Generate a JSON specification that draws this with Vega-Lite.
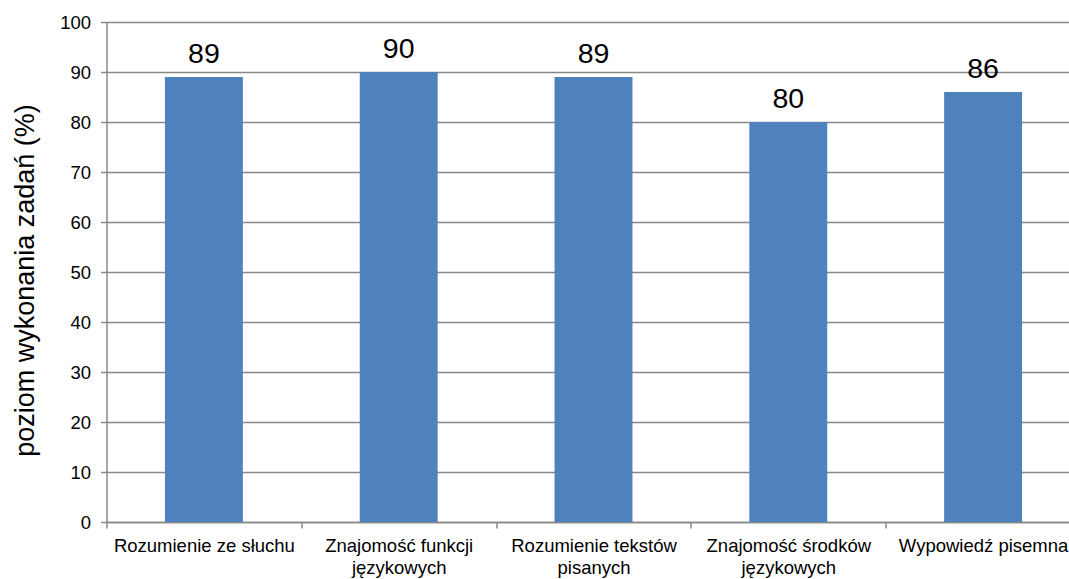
{
  "$schema": "https://vega.github.io/schema/vega-lite/v6.json",
  "autosize": "none",
  "width": 962,
  "height": 500,
  "padding": {"left": 106.5, "top": 22, "right": 0, "bottom": 57},
  "background": "white",
  "config": {
    "view": {"stroke": null},
    "font": "Liberation Sans"
  },
  "data": {
    "values": [
      {"kategoria": "Rozumienie ze słuchu", "wynik": 89},
      {"kategoria": "Znajomość funkcji językowych", "wynik": 90},
      {"kategoria": "Rozumienie tekstów pisanych", "wynik": 89},
      {"kategoria": "Znajomość środków językowych", "wynik": 80},
      {"kategoria": "Wypowiedź pisemna", "wynik": 86}
    ]
  },
  "encoding": {
    "x": {
      "field": "kategoria",
      "type": "nominal",
      "sort": null,
      "scale": {"range": [0, 974], "paddingInner": 0, "paddingOuter": 0},
      "axis": {
        "title": null,
        "labelAngle": 0,
        "labelFont": "Liberation Sans",
        "labelFontSize": 18.5,
        "labelColor": "#000000",
        "labelLineHeight": 22,
        "labelPadding": 8,
        "labelLimit": 400,
        "labelExpr": "length(datum.label) > 22 ? [slice(datum.label, 0, lastindexof(datum.label, ' ')), slice(datum.label, lastindexof(datum.label, ' ') + 1)] : datum.label",
        "tickBand": "extent",
        "tickSize": 6,
        "tickColor": "#888888",
        "tickWidth": 1.5,
        "domainColor": "#888888",
        "domainWidth": 1.5,
        "grid": false
      }
    },
    "y": {
      "field": "wynik",
      "type": "quantitative",
      "scale": {"domain": [0, 100]},
      "axis": {
        "title": "poziom wykonania zadań (%)",
        "titleFont": "Liberation Sans",
        "titleFontSize": 27,
        "titleFontWeight": "normal",
        "titleColor": "#000000",
        "titlePadding": 20,
        "titleY": 258,
        "values": [0, 10, 20, 30, 40, 50, 60, 70, 80, 90, 100],
        "labelFont": "Liberation Sans",
        "labelFontSize": 18.5,
        "labelColor": "#000000",
        "labelPadding": 10,
        "tickSize": 6,
        "tickColor": "#888888",
        "tickWidth": 1.5,
        "domainColor": "#888888",
        "domainWidth": 1.5,
        "grid": true,
        "gridColor": "#888888",
        "gridWidth": 1.5
      }
    }
  },
  "layer": [
    {
      "mark": {"type": "bar", "color": "#4f81bd", "width": {"band": 0.4}}
    },
    {
      "mark": {
        "type": "text",
        "baseline": "alphabetic",
        "dy": -14,
        "fontSize": 28.5,
        "font": "Liberation Sans",
        "color": "#000000"
      },
      "encoding": {"text": {"field": "wynik", "type": "quantitative"}}
    }
  ]
}
